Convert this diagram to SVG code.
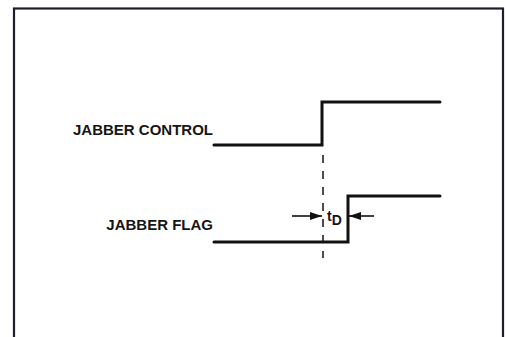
<svg xmlns="http://www.w3.org/2000/svg" width="506" height="337" viewBox="0 0 506 337">
<style>
.frame{fill:none;stroke:#1e1f2e;stroke-width:2.2}
.sig{fill:none;stroke:#111;stroke-width:3;stroke-linecap:round;stroke-linejoin:miter}
.dash{fill:none;stroke:#111;stroke-width:1.5;stroke-dasharray:8,8}
.dim{fill:none;stroke:#111;stroke-width:1.6}
.lbl{font-family:"Liberation Sans",Arial,sans-serif;font-weight:bold;font-size:15px;fill:#151515}
</style>
<defs>
<marker id="ah" viewBox="0 0 12 8" refX="12" refY="4" markerWidth="12" markerHeight="8" markerUnits="userSpaceOnUse" orient="auto">
<path d="M0,0 L12,4 L0,8 Z" fill="#111"/>
</marker>
</defs>
<rect class="frame" x="14" y="8.5" width="489" height="340"/>
<g id="jabber-control">
<text class="lbl" x="213" y="135" text-anchor="end">JABBER CONTROL</text>
<polyline class="sig" points="214,145 322,145 322,102 440,102"/>
</g>
<g id="jabber-flag">
<text class="lbl" x="213" y="230" text-anchor="end">JABBER FLAG</text>
<polyline class="sig" points="214,242 348,242 348,196 440,196"/>
</g>
<g id="connectors">
<line class="dash" x1="323" y1="155" x2="323" y2="258"/>
<line class="dim" x1="292" y1="216" x2="322" y2="216" marker-end="url(#ah)"/>
<line class="dim" x1="374" y1="216" x2="349" y2="216" marker-end="url(#ah)"/>
</g>
<g id="td-label">
<text font-family="'Liberation Sans',Arial,sans-serif" font-weight="bold" fill="#151515" x="327" y="221" font-size="14">t<tspan dy="4">D</tspan></text>
</g>
</svg>
